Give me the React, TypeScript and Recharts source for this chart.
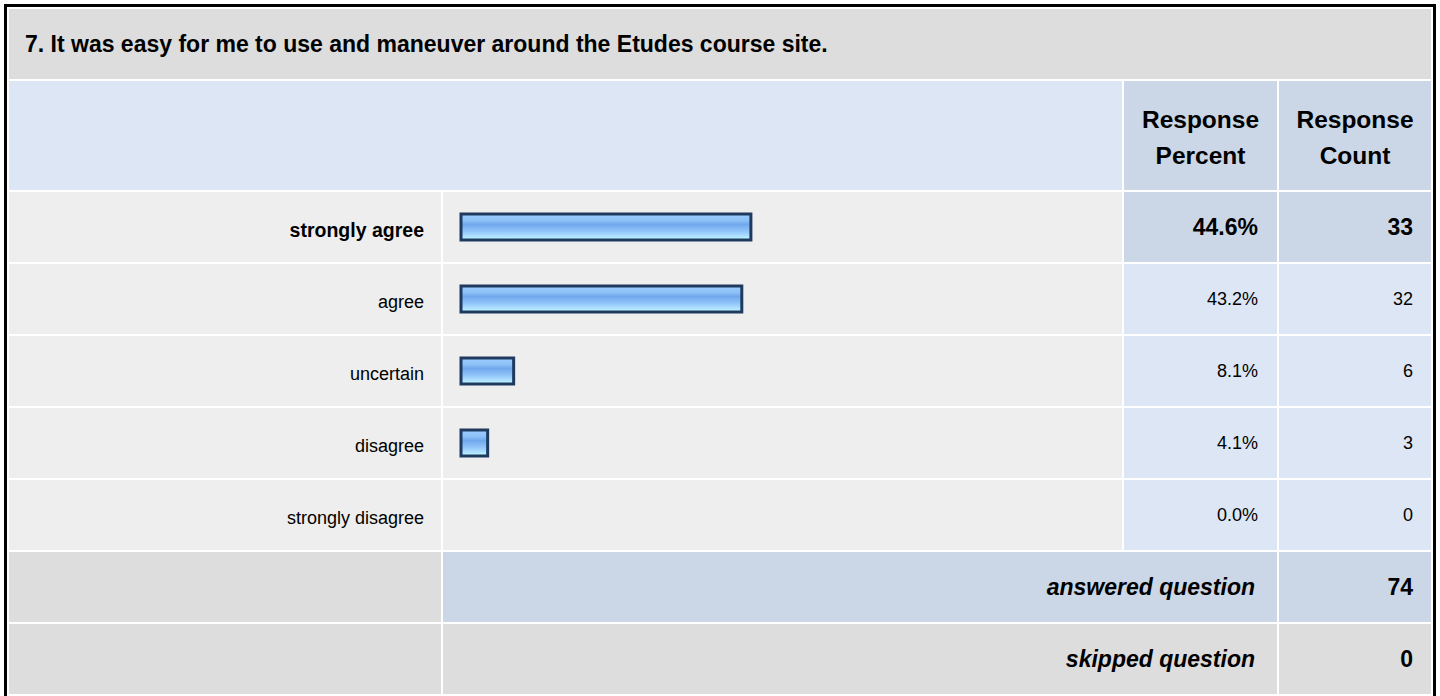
import { BarChart, Bar, XAxis, YAxis } from 'recharts';

const title = '7. It was easy for me to use and maneuver around the Etudes course site.';
const categories = ['strongly agree', 'agree', 'uncertain', 'disagree', 'strongly disagree'];
const percents = [44.6, 43.2, 8.1, 4.1, 0.0];
const counts = [33, 32, 6, 3, 0];
const answeredCount = 74;
const skippedCount = 0;

const FONT = '"Liberation Sans", Arial, sans-serif';
const GRAY = '#dddddd';
const ROW = '#eeeeee';
const BLUE = '#dce6f4';
const BLUE_DARK = '#cbd7e6';

const maxPct = Math.max(...percents);
const chartData = categories.map((name, i) => ({ name, value: percents[i] }));

const cell = (bg: string, extra: React.CSSProperties = {}): React.CSSProperties => ({
  background: bg,
  display: 'flex',
  alignItems: 'center',
  fontFamily: FONT,
  fontSize: 18,
  color: '#000',
  ...extra,
});

function LabelTick(props: any) {
  const { x, y, payload } = props;
  const i = categories.indexOf(payload.value);
  const top = percents[i] === maxPct;
  return (
    <text
      x={x}
      y={y}
      dy={3}
      textAnchor="end"
      dominantBaseline="central"
      fontFamily={FONT}
      fontSize={top ? 19.5 : 18}
      fontWeight={top ? 'bold' : 'normal'}
      fill="#000"
    >
      {payload.value}
    </text>
  );
}

export default function App() {
  return (
    <div style={{ position: 'absolute', left: 0, top: 0, width: 1440, height: 696, overflow: 'hidden', background: '#fff' }}>
      <div
        style={{
          position: 'absolute',
          left: 4,
          top: 4,
          border: '3px solid #000',
          padding: 2,
          background: '#fff',
          display: 'grid',
          gridTemplateColumns: '432px 679px 153px 152px',
          gridTemplateRows: '70px 109px repeat(5, 70px) 70px 70px',
          gap: 2,
        }}
      >
        <div style={cell(GRAY, { gridColumn: '1 / 5', paddingLeft: 16, fontSize: 23, fontWeight: 'bold' })}>{title}</div>

        <div style={cell(BLUE, { gridColumn: '1 / 3' })} />
        <div style={cell(BLUE_DARK, { justifyContent: 'center', textAlign: 'center', fontWeight: 'bold', fontSize: 24.5, lineHeight: '36px', paddingTop: 5 })}>
          Response<br />Percent
        </div>
        <div style={cell(BLUE_DARK, { justifyContent: 'center', textAlign: 'center', fontWeight: 'bold', fontSize: 24.5, lineHeight: '36px', paddingTop: 5 })}>
          Response<br />Count
        </div>

        {categories.map((c, i) => {
          const top = percents[i] === maxPct;
          const bg = top ? BLUE_DARK : BLUE;
          const w = top ? 'bold' : 'normal';
          const fs = top ? 23 : 18;
          return [
            <div key={c + 'l'} style={cell(ROW)} />,
            <div key={c + 'b'} style={cell(ROW)} />,
            <div key={c + 'p'} style={cell(bg, { justifyContent: 'flex-end', paddingRight: 19, fontWeight: w, fontSize: fs })}>
              {percents[i].toFixed(1)}%
            </div>,
            <div key={c + 'c'} style={cell(bg, { justifyContent: 'flex-end', paddingRight: 18, fontWeight: w, fontSize: fs })}>
              {counts[i]}
            </div>,
          ];
        })}

        <div style={cell(GRAY)} />
        <div style={cell(BLUE_DARK, { gridColumn: '2 / 4', justifyContent: 'flex-end', paddingRight: 22, fontWeight: 'bold', fontStyle: 'italic', fontSize: 23 })}>
          answered question
        </div>
        <div style={cell(BLUE_DARK, { justifyContent: 'flex-end', paddingRight: 18, fontWeight: 'bold', fontSize: 23 })}>{answeredCount}</div>

        <div style={cell(GRAY)} />
        <div style={cell(GRAY, { gridColumn: '2 / 4', justifyContent: 'flex-end', paddingRight: 22, fontWeight: 'bold', fontStyle: 'italic', fontSize: 23 })}>
          skipped question
        </div>
        <div style={cell(GRAY, { justifyContent: 'flex-end', paddingRight: 18, fontWeight: 'bold', fontSize: 23 })}>{skippedCount}</div>
      </div>

      <div style={{ position: 'absolute', left: 9, top: 191 }}>
        <BarChart
          width={1113}
          height={360}
          data={chartData}
          layout="vertical"
          margin={{ top: 0, right: 11, bottom: 0, left: 0 }}
        >
          <defs>
            <linearGradient id="barFill" x1="0" y1="0" x2="0" y2="1">
              <stop offset="0%" stopColor="#9dcdff" />
              <stop offset="25%" stopColor="#8ec0f8" />
              <stop offset="40%" stopColor="#70a8ec" />
              <stop offset="60%" stopColor="#88bdf6" />
              <stop offset="80%" stopColor="#a6d8ff" />
              <stop offset="100%" stopColor="#c2ffff" />
            </linearGradient>
          </defs>
          <XAxis type="number" domain={[0, 100]} hide />
          <YAxis
            type="category"
            dataKey="name"
            width={452}
            axisLine={false}
            tickLine={false}
            tickMargin={31}
            tick={<LabelTick />}
          />
          <Bar
            dataKey="value"
            fill="url(#barFill)"
            stroke="#1e3a5f"
            strokeWidth={3}
            barSize={26}
            isAnimationActive={false}
          />
        </BarChart>
      </div>
    </div>
  );
}
